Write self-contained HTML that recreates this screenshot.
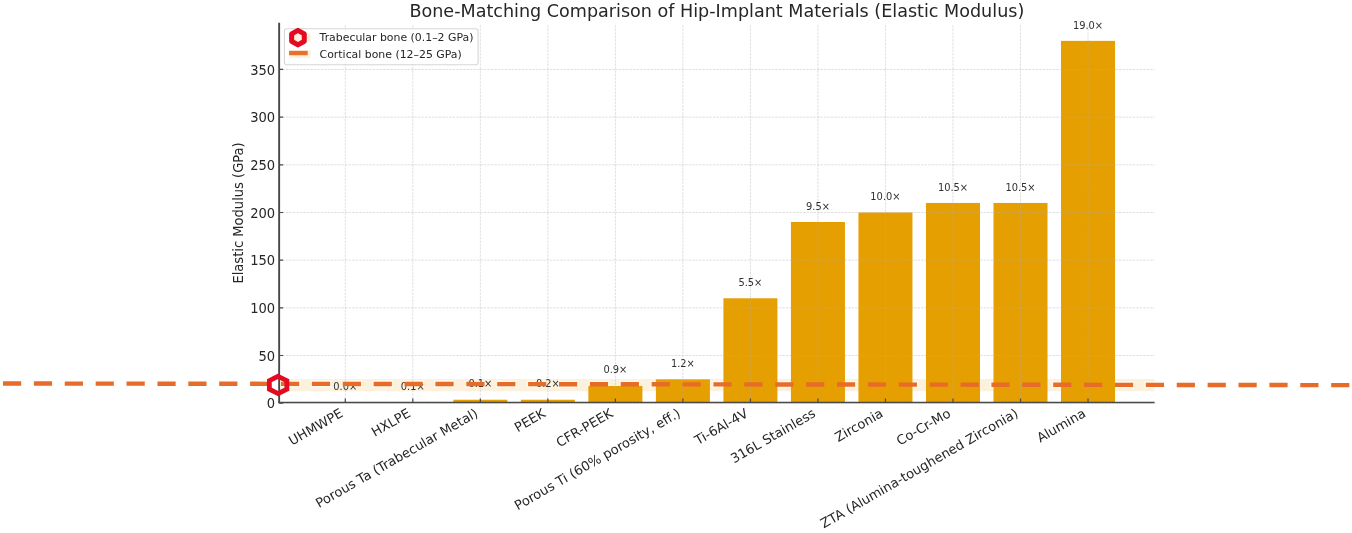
<!DOCTYPE html>
<html lang="en"><head><meta charset="utf-8"><title>Bone-Matching Comparison of Hip-Implant Materials</title>
<style>html,body{margin:0;padding:0;background:#fff;}body{width:1352px;height:533px;overflow:hidden;}svg{display:block;}</style>
</head><body>
<svg width="1352" height="533" viewBox="0 0 1352 533" font-family='"DejaVu Sans","Liberation Sans",sans-serif' fill="#262626">
<rect width="1352" height="533" fill="#ffffff"/>
<rect x="279.15" y="379.03" width="875.45" height="12.19" fill="#fcf1dc"/>
<clipPath id="ax"><rect x="279.15" y="22.75" width="875.45" height="379.80"/></clipPath>
<path d="M1.4 383.498L1349.5 385.15" fill="none" stroke="#fef8ea" stroke-width="7.8" stroke-dasharray="21.4 9.488" clip-path="url(#ax)"/>
<rect x="318.29" y="402.40" width="54.02" height="0.15" fill="#e69f00"/>
<rect x="385.81" y="402.21" width="54.02" height="0.34" fill="#e69f00"/>
<rect x="453.33" y="399.73" width="54.02" height="2.82" fill="#e69f00"/>
<rect x="520.85" y="399.73" width="54.02" height="2.82" fill="#e69f00"/>
<rect x="588.37" y="386.00" width="54.02" height="16.55" fill="#e69f00"/>
<rect x="655.89" y="379.33" width="54.02" height="23.22" fill="#e69f00"/>
<rect x="723.41" y="298.29" width="54.02" height="104.26" fill="#e69f00"/>
<rect x="790.93" y="222.01" width="54.02" height="180.54" fill="#e69f00"/>
<rect x="858.45" y="212.48" width="54.02" height="190.07" fill="#e69f00"/>
<rect x="925.97" y="202.95" width="54.02" height="199.60" fill="#e69f00"/>
<rect x="993.49" y="202.95" width="54.02" height="199.60" fill="#e69f00"/>
<rect x="1061.01" y="40.87" width="54.02" height="361.68" fill="#e69f00"/>
<path d="M345.30 402.55V24.25M412.82 402.55V24.25M480.34 402.55V24.25M547.86 402.55V24.25M615.38 402.55V24.25M682.90 402.55V24.25M750.42 402.55V24.25M817.94 402.55V24.25M885.46 402.55V24.25M952.98 402.55V24.25M1020.50 402.55V24.25M1088.02 402.55V24.25M279.15 403.16H1154.60M279.15 355.49H1154.60M279.15 307.82H1154.60M279.15 260.15H1154.60M279.15 212.48H1154.60M279.15 164.81H1154.60M279.15 117.14H1154.60M279.15 69.47H1154.60" fill="none" stroke="#b0b0b0" stroke-opacity="0.5" stroke-width="0.8" stroke-dasharray="2.42 1.05"/>
<g font-size="9.85" text-anchor="middle" fill="#303030">
<text x="345.30" y="389.80">0.0×</text>
<text x="412.82" y="389.61">0.1×</text>
<text x="480.34" y="387.13">0.1×</text>
<text x="547.86" y="387.13">0.2×</text>
<text x="615.38" y="373.40">0.9×</text>
<text x="682.90" y="366.73">1.2×</text>
<text x="750.42" y="286.19">5.5×</text>
<text x="817.94" y="209.91">9.5×</text>
<text x="885.46" y="200.38">10.0×</text>
<text x="952.98" y="190.85">10.5×</text>
<text x="1020.50" y="190.85">10.5×</text>
<text x="1088.02" y="28.77">19.0×</text>
</g>
<path d="M3.0 383.5L1349.5 385.15" fill="none" stroke="#e76c29" stroke-width="4.4" stroke-dasharray="18.2 12.688"/>
<path d="M279.15 22.75V403.0" fill="none" stroke="#484848" stroke-width="1.9"/>
<path d="M278.2 402.55H1154.6" fill="none" stroke="#484848" stroke-width="1.4"/>
<path d="M345.30 402.55v-4M412.82 402.55v-4M480.34 402.55v-4M547.86 402.55v-4M615.38 402.55v-4M682.90 402.55v-4M750.42 402.55v-4M817.94 402.55v-4M885.46 402.55v-4M952.98 402.55v-4M1020.50 402.55v-4M1088.02 402.55v-4M279.15 403.16h4M279.15 355.49h4M279.15 307.82h4M279.15 260.15h4M279.15 212.48h4M279.15 164.81h4M279.15 117.14h4M279.15 69.47h4" fill="none" stroke="#484848" stroke-width="1.2"/>
<g font-size="13.1" text-anchor="end">
<text transform="translate(275.2 402.15) scale(1 1.1)" y="5.09">0</text>
<text transform="translate(275.2 355.19) scale(1 1.1)" y="5.09">50</text>
<text transform="translate(275.2 307.52) scale(1 1.1)" y="5.09">100</text>
<text transform="translate(275.2 259.85) scale(1 1.1)" y="5.09">150</text>
<text transform="translate(275.2 212.18) scale(1 1.1)" y="5.09">200</text>
<text transform="translate(275.2 164.51) scale(1 1.1)" y="5.09">250</text>
<text transform="translate(275.2 116.84) scale(1 1.1)" y="5.09">300</text>
<text transform="translate(275.2 69.17) scale(1 1.1)" y="5.09">350</text>
</g>
<g font-size="13.1" text-anchor="end">
<text transform="translate(343.90 415.9) rotate(-30)">UHMWPE</text>
<text transform="translate(411.42 415.9) rotate(-30)">HXLPE</text>
<text transform="translate(478.94 415.9) rotate(-30)">Porous Ta (Trabecular Metal)</text>
<text transform="translate(546.46 415.9) rotate(-30)">PEEK</text>
<text transform="translate(613.98 415.9) rotate(-30)">CFR-PEEK</text>
<text transform="translate(681.50 415.9) rotate(-30)">Porous Ti (60% porosity, eff.)</text>
<text transform="translate(749.02 415.9) rotate(-30)">Ti-6Al-4V</text>
<text transform="translate(816.54 415.9) rotate(-30)">316L Stainless</text>
<text transform="translate(884.06 415.9) rotate(-30)">Zirconia</text>
<text transform="translate(951.58 415.9) rotate(-30)">Co-Cr-Mo</text>
<text transform="translate(1019.10 415.9) rotate(-30)">ZTA (Alumina-toughened Zirconia)</text>
<text transform="translate(1086.62 415.9) rotate(-30)">Alumina</text>
</g>
<text font-size="13.1" text-anchor="middle" transform="translate(242.6 212.95) rotate(-90) scale(1 1.07)">Elastic Modulus (GPa)</text>
<text font-size="16.95" text-anchor="middle" transform="translate(716.85 16.5) scale(1.037 1)">Bone-Matching Comparison of Hip-Implant Materials (Elastic Modulus)</text>
<polygon points="278.10,376.30 286.85,380.62 286.85,389.27 278.10,393.60 269.35,389.27 269.35,380.62" fill="none" stroke="#e30a22" stroke-width="4.8" stroke-linejoin="miter"/>
<rect x="284.4" y="28.8" width="193.7" height="36" rx="2.5" fill="#ffffff" fill-opacity="0.8" stroke="#cccccc" stroke-opacity="0.8" stroke-width="1.1"/>
<rect x="289.1" y="33.4" width="21.5" height="7.8" fill="#fcf1dc"/>
<polygon points="297.95,30.30 304.27,33.95 304.27,41.25 297.95,44.90 291.63,41.25 291.63,33.95" fill="#fcf1dc" stroke="#e30a22" stroke-width="5" stroke-linejoin="round"/>
<rect x="289.1" y="50.2" width="21.5" height="7.9" fill="#fcf1dc"/>
<path d="M289.1 53.05H307.7" stroke="#e8702a" stroke-width="4.4" fill="none"/>
<g font-size="10.9"><text x="319.6" y="41.3">Trabecular bone (0.1–2 GPa)</text><text x="319.6" y="57.9">Cortical bone (12–25 GPa)</text></g>
</svg>
</body></html>
